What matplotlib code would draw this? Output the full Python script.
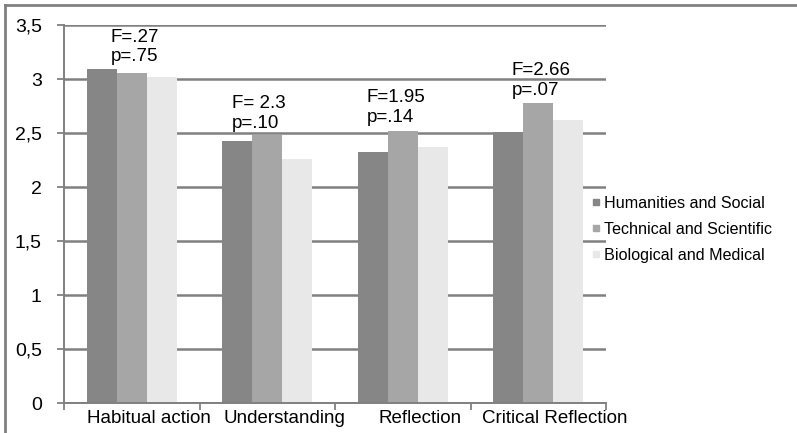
import numpy as np
import matplotlib
matplotlib.use('Agg')
import matplotlib.pyplot as plt
from matplotlib.lines import Line2D

plt.rcParams['font.family'] = ['Liberation Sans', 'DejaVu Sans']

categories = ['Habitual action', 'Understanding', 'Reflection', 'Critical Reflection']
series = ['Humanities and Social', 'Technical and Scientific', 'Biological and Medical']
humanities = [3.09, 2.43, 2.32, 2.51]
technical = [3.06, 2.48, 2.52, 2.78]
biological = [3.02, 2.26, 2.37, 2.62]
stats = ['F=.27\np=.75', 'F= 2.3\np=.10', 'F=1.95\np=.14', 'F=2.66\np=.07']
stat_top = [3.465, 2.85, 2.905, 3.155]
stat_dx = [-0.155, -0.26, -0.265, -0.195]

colors = ['#868686', '#a6a6a6', '#e8e8e8']
grid_c = '#808080'

W, H = 797, 433
fig = plt.figure(figsize=(W / 100, H / 100), dpi=100)
ax = fig.add_axes([64 / W, 1 - 403 / H, (606 - 64) / W, (403 - 25) / H])

x = np.arange(len(categories))
bw = 0.2214
for i, vals in enumerate([humanities, technical, biological]):
    ax.bar(x + (i - 1) * bw, vals, width=bw, color=colors[i], label=series[i], zorder=2)

ax.set_xlim(-0.5, len(categories) - 0.5)
ax.set_ylim(0, 3.5)
ax.set_yticks(np.arange(0, 3.51, 0.5))
ax.set_yticklabels(['0', '0,5', '1', '1,5', '2', '2,5', '3', '3,5'], fontsize=14)
ax.yaxis.grid(True, color=grid_c, lw=1.8, zorder=1)
ax.set_axisbelow(True)

# category labels sit a bit right of the group centre, as in the original
ax.set_xticks(x + 0.125)
ax.set_xticklabels(categories, fontsize=13.5)
ax.tick_params(axis='x', length=0, pad=5)
ax.set_xticks(np.arange(-0.5, len(categories), 1), minor=True)
ax.tick_params(axis='x', which='minor', length=5, width=1.3, color=grid_c, direction='out')
ax.tick_params(axis='y', length=5, width=1.3, color=grid_c, pad=11)

for s in ['top', 'right']:
    ax.spines[s].set_visible(False)
for s in ['left', 'bottom']:
    ax.spines[s].set_color(grid_c)
    ax.spines[s].set_linewidth(1.4)

for i, t in enumerate(stats):
    ax.text(x[i] + stat_dx[i], stat_top[i], t, fontsize=13.5, ha='left', va='top',
            linespacing=1.2)

handles = [Line2D([], [], marker='s', ls='', markersize=5, color=c) for c in colors]
fig.legend(handles, series, loc='upper left', bbox_to_anchor=(578 / W, 1 - 188 / H),
           frameon=False, fontsize=11.6, handletextpad=-0.1, labelspacing=0.68,
           borderpad=0, handlelength=1.2)

fig.add_artist(Line2D([5 / W, 1], [1 - 5 / H, 1 - 5 / H], color='#808080', lw=2))
fig.add_artist(Line2D([5 / W, 5 / W], [1 - 5 / H, 0], color='#808080', lw=2))

fig.savefig('out.png', dpi=100)
